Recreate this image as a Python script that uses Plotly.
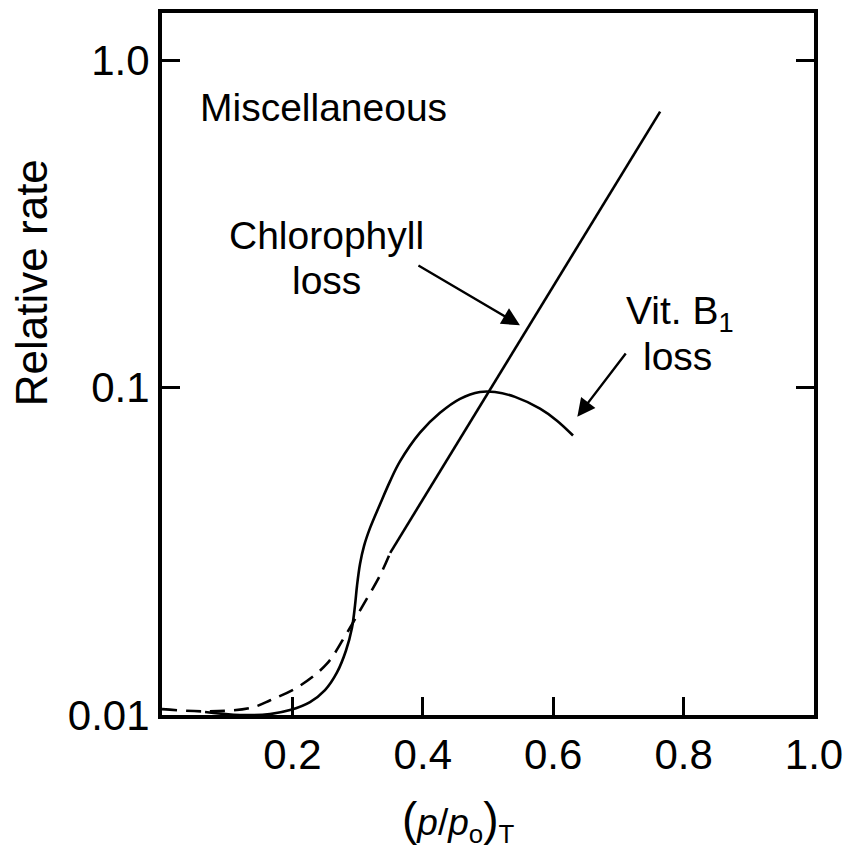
import plotly.graph_objects as go

# Water activity (x) and relative reaction rates (log y)
chl_dash_x = [0.0, 0.069, 0.135, 0.166, 0.212, 0.253, 0.281, 0.308, 0.334, 0.350]
chl_dash_y = [0.01042, 0.01026, 0.0105, 0.01109, 0.0123, 0.01435, 0.01746, 0.0216, 0.0266, 0.0313]

chl_solid_x = [0.350, 0.764]
chl_solid_y = [0.0313, 0.698]

vitb1_x = [0.0660, 0.1196, 0.1656, 0.1963, 0.2270, 0.2500, 0.2684, 0.2822, 0.2914, 0.2960,
           0.2991, 0.3037, 0.3098, 0.3190, 0.3344, 0.3497, 0.3650, 0.3957, 0.4264, 0.4571,
           0.4877, 0.5107, 0.5414, 0.5798, 0.6058, 0.6304]
vitb1_y = [0.01021, 0.01000, 0.01007, 0.01035, 0.01095, 0.01191, 0.01349, 0.01574, 0.01849,
           0.02158, 0.02483, 0.02895, 0.03283, 0.03724, 0.04406, 0.05176, 0.05953, 0.07290,
           0.08380, 0.09247, 0.09705, 0.09705, 0.09376, 0.08630, 0.07932, 0.07145]

x_ticks = [0.2, 0.4, 0.6, 0.8, 1.0]
x_ticktext = ["0.2", "0.4", "0.6", "0.8", "1.0"]
y_ticks = [0.01, 0.1, 1.0]
y_ticktext = ["0.01", "0.1", "1.0"]

FONT = "Liberation Sans, Arial, Helvetica, sans-serif"
LW = 2.6

fig = go.Figure()
fig.add_trace(go.Scatter(x=chl_dash_x, y=chl_dash_y, mode="lines",
                         line=dict(color="black", width=LW, dash="15px,9px", shape="spline"),
                         hoverinfo="skip"))
fig.add_trace(go.Scatter(x=chl_solid_x, y=chl_solid_y, mode="lines",
                         line=dict(color="black", width=LW), hoverinfo="skip"))
fig.add_trace(go.Scatter(x=vitb1_x, y=vitb1_y, mode="lines",
                         line=dict(color="black", width=LW, shape="spline", smoothing=1.0),
                         hoverinfo="skip"))

text_font = dict(family=FONT, size=39, color="black")
annotations = [
    dict(x=0.248, y=-0.145, text="Miscellaneous", showarrow=False, font=text_font,
         xanchor="center", yanchor="middle"),
    dict(x=0.252, y=-0.536, text="Chlorophyll", showarrow=False, font=text_font,
         xanchor="center", yanchor="middle"),
    dict(x=0.252, y=-0.672, text="loss", showarrow=False, font=text_font,
         xanchor="center", yanchor="middle"),
    dict(x=0.794, y=-0.772, text="Vit. B<sub>1</sub>", showarrow=False, font=text_font,
         xanchor="center", yanchor="middle"),
    dict(x=0.790, y=-0.906, text="loss", showarrow=False, font=text_font,
         xanchor="center", yanchor="middle"),
    # arrows
    dict(x=0.549, y=-0.809, ax=0.391, ay=-0.624, xref="x", yref="y", axref="x", ayref="y",
         text="", showarrow=True, arrowhead=2, arrowsize=1.5, arrowwidth=2.4, arrowcolor="black"),
    dict(x=0.637, y=-1.089, ax=0.713, ay=-0.891, xref="x", yref="y", axref="x", ayref="y",
         text="", showarrow=True, arrowhead=2, arrowsize=1.5, arrowwidth=2.4, arrowcolor="black"),
    # axis titles
    dict(x=-0.200, y=0.616, xref="paper", yref="paper", text="Relative rate", textangle=-90,
         showarrow=False, font=dict(family=FONT, size=44, color="black"),
         xanchor="center", yanchor="middle"),
    dict(x=0.454, y=-0.150, xref="paper", yref="paper",
         text='<span style="font-size:46px">(</span><i>p</i>/<i>p</i><sub>o</sub>'
              '<span style="font-size:46px">)</span><sub>T</sub>',
         showarrow=False, font=dict(family=FONT, size=37, color="black"),
         xanchor="center", yanchor="middle"),
]

fig.update_layout(
    width=853, height=850,
    margin=dict(l=162, r=39, t=9, b=135),
    paper_bgcolor="white", plot_bgcolor="white",
    showlegend=False,
    annotations=annotations,
    font=dict(family=FONT, size=42, color="black"),
)
fig.update_xaxes(range=[0, 1.0], tickvals=x_ticks, ticktext=x_ticktext,
                 ticks="inside", ticklen=18, tickwidth=3, tickcolor="black",
                 showline=True, linewidth=4, linecolor="black", mirror=True,
                 showgrid=False, zeroline=False,
                 tickfont=dict(family=FONT, size=42, color="black"))
fig.update_yaxes(type="log", range=[-2, 0.145], tickvals=y_ticks, ticktext=y_ticktext,
                 ticks="inside", ticklen=18, tickwidth=3, tickcolor="black",
                 showline=True, linewidth=4, linecolor="black", mirror="ticks",
                 showgrid=False, zeroline=False,
                 tickfont=dict(family=FONT, size=42, color="black"))

fig.write_html("out.html")
